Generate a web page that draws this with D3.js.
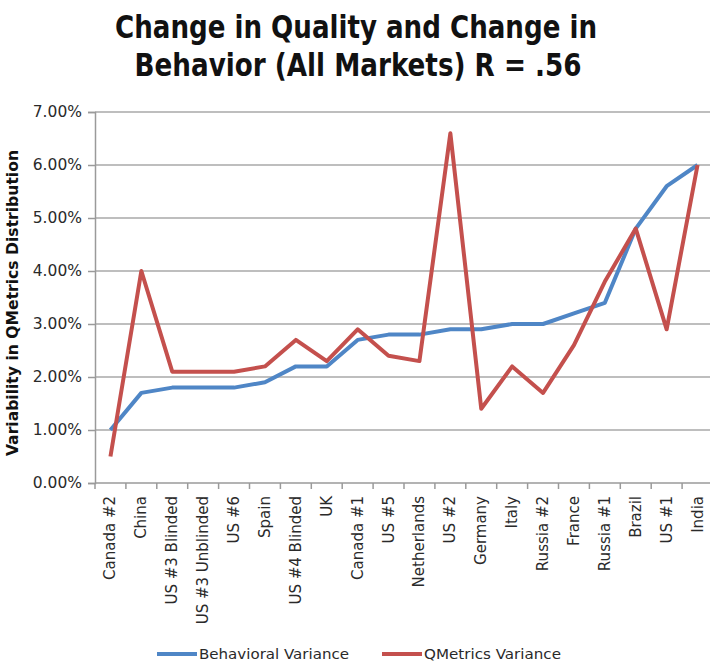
<!DOCTYPE html>
<html>
<head>
<meta charset="utf-8">
<script src="https://cdn.jsdelivr.net/npm/d3@7"></script>
<style>
  body { margin: 0; background: #fff; }
  svg { display: block; overflow: hidden; }
</style>
</head>
<body>
<svg id="chart" width="710" height="663"></svg>
<script>
// categories and series (percent values)
const markets = ["Canada #2", "China", "US #3 Blinded", "US #3 Unblinded", "US #6", "Spain",
  "US #4 Blinded", "UK", "Canada #1", "US #5", "Netherlands", "US #2", "Germany", "Italy",
  "Russia #2", "France", "Russia #1", "Brazil", "US #1", "India"];
const behavioral = [1.0, 1.7, 1.8, 1.8, 1.8, 1.9, 2.2, 2.2, 2.7, 2.8, 2.8, 2.9, 2.9, 3.0, 3.0, 3.2, 3.4, 4.8, 5.6, 6.0];
const qmetrics = [0.5, 4.0, 2.1, 2.1, 2.1, 2.2, 2.7, 2.3, 2.9, 2.4, 2.3, 6.6, 1.4, 2.2, 1.7, 2.6, 3.8, 4.8, 2.9, 6.0];
const yTicks = [0, 1, 2, 3, 4, 5, 6, 7];
const seriesNames = ["Behavioral Variance", "QMetrics Variance"];

const font = "'DejaVu Sans', Verdana, sans-serif";
const condensed = "'DejaVu Sans Condensed', 'DejaVu Sans', sans-serif";
const blue = "#4f86c6", red = "#c4504d";

const margin = { top: 112, left: 95 };
const width = 618, height = 371;

const svg = d3.select("#chart");

// title
const title = svg.append("g")
  .attr("font-family", condensed)
  .attr("font-stretch", "condensed")
  .attr("font-weight", "bold")
  .attr("font-size", 32)
  .attr("fill", "#111")
  .attr("text-anchor", "middle");
title.append("text").attr("x", 356).attr("y", 38)
  .attr("textLength", 482).attr("lengthAdjust", "spacingAndGlyphs")
  .text("Change in Quality and Change in");
title.append("text").attr("x", 358).attr("y", 76)
  .attr("textLength", 447).attr("lengthAdjust", "spacingAndGlyphs")
  .text("Behavior (All Markets) R = .56");

const g = svg.append("g")
  .attr("transform", `translate(${margin.left},${margin.top})`);

const x = d3.scaleBand()
  .domain(markets)
  .range([0, width]);

const y = d3.scaleLinear()
  .domain([0, 7])
  .range([height, 0]);

// gridlines
g.append("g")
  .selectAll("line")
  .data(yTicks.slice(1))
  .join("line")
  .attr("x1", 0)
  .attr("x2", width)
  .attr("y1", d => y(d))
  .attr("y2", d => y(d))
  .attr("stroke", "#a8a8a8")
  .attr("stroke-width", 1.5);

// y axis
const yAxis = g.append("g")
  .call(d3.axisLeft(y).tickValues(yTicks).tickSize(7).tickPadding(6)
    .tickFormat(d => d.toFixed(2) + "%"));
yAxis.select(".domain").attr("stroke", "#9a9a9a").attr("stroke-width", 1.5);
yAxis.selectAll(".tick line").attr("stroke", "#9a9a9a").attr("stroke-width", 1.5);
yAxis.selectAll(".tick text")
  .attr("font-family", font)
  .attr("font-size", 15.5)
  .attr("fill", "#2a2a2a");

// x axis: ticks on band edges
const xAxis = g.append("g")
  .attr("transform", `translate(0,${height})`);
xAxis.append("line")
  .attr("x1", 0).attr("x2", width)
  .attr("stroke", "#9a9a9a").attr("stroke-width", 1.5);
xAxis.selectAll(".edge")
  .data(d3.range(markets.length + 1))
  .join("line")
  .attr("class", "edge")
  .attr("x1", i => x.step() * i)
  .attr("x2", i => x.step() * i)
  .attr("y1", 0).attr("y2", 6)
  .attr("stroke", "#9a9a9a").attr("stroke-width", 1.5);
xAxis.selectAll(".lbl")
  .data(markets)
  .join("text")
  .attr("class", "lbl")
  .attr("transform", d => `translate(${x(d) + x.bandwidth() / 2 + 5},${13}) rotate(-90)`)
  .attr("text-anchor", "end")
  .attr("font-family", font)
  .attr("font-size", 15)
  .attr("fill", "#2a2a2a")
  .text(d => d);

// lines
const line = d3.line()
  .x((d, i) => x(markets[i]) + x.bandwidth() / 2)
  .y(d => y(d));

g.append("path")
  .datum(behavioral)
  .attr("d", line)
  .attr("fill", "none")
  .attr("stroke", blue)
  .attr("stroke-width", 4)
  .attr("stroke-linejoin", "round");

g.append("path")
  .datum(qmetrics)
  .attr("d", line)
  .attr("fill", "none")
  .attr("stroke", red)
  .attr("stroke-width", 4)
  .attr("stroke-linejoin", "round");

// y axis title
svg.append("text")
  .attr("transform", "translate(18,303) rotate(-90)")
  .attr("text-anchor", "middle")
  .attr("font-family", condensed)
  .attr("font-stretch", "condensed")
  .attr("font-weight", "bold")
  .attr("font-size", 15)
  .attr("fill", "#111")
  .attr("textLength", 306)
  .attr("lengthAdjust", "spacingAndGlyphs")
  .text("Variability in  QMetrics Distribution");

// legend
const legendX = [157, 382];
const legend = svg.append("g")
  .selectAll("g")
  .data(seriesNames)
  .join("g")
  .attr("transform", (d, i) => `translate(${legendX[i]},654)`);
legend.append("line")
  .attr("x1", 0).attr("x2", 40)
  .attr("stroke", (d, i) => i === 0 ? blue : red)
  .attr("stroke-width", 4);
legend.append("text")
  .attr("x", 42)
  .attr("dy", "0.35em")
  .attr("font-family", font)
  .attr("font-size", 14.5)
  .attr("fill", "#2a2a2a")
  .attr("textLength", (d, i) => i === 0 ? 150 : 137)
  .attr("lengthAdjust", "spacingAndGlyphs")
  .text(d => d);
</script>
</body>
</html>
